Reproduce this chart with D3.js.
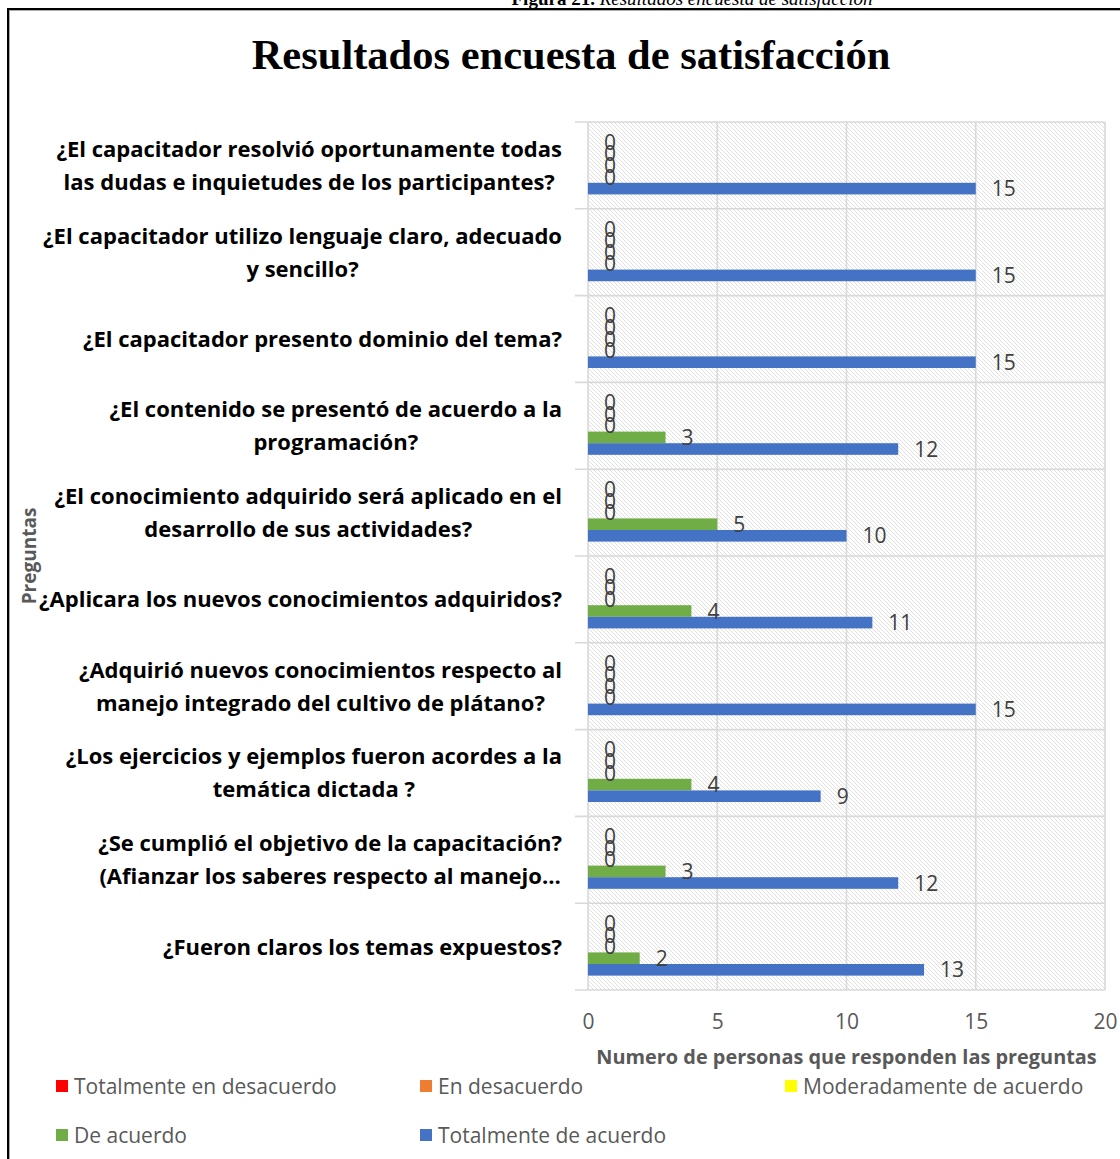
<!DOCTYPE html>
<html>
<head>
<meta charset="utf-8">
<script src="https://cdn.jsdelivr.net/npm/d3@7"></script>
<style>
  html, body { margin: 0; padding: 0; background: #fff; }
  svg { display: block; }
</style>
</head>
<body>
<script>
// Survey questions, top to bottom, already split into display lines
const preguntas = [
  ["¿El capacitador resolvió oportunamente todas", "las dudas e inquietudes de los participantes?"],
  ["¿El capacitador utilizo lenguaje claro, adecuado", "y sencillo?"],
  ["¿El capacitador presento dominio del tema?"],
  ["¿El contenido se presentó de acuerdo a la", "programación?"],
  ["¿El conocimiento adquirido será aplicado en el", "desarrollo de sus actividades?"],
  ["¿Aplicara los nuevos conocimientos adquiridos?"],
  ["¿Adquirió nuevos conocimientos respecto al", "manejo integrado del cultivo de plátano?"],
  ["¿Los ejercicios y ejemplos fueron acordes a la", "temática dictada ?"],
  ["¿Se cumplió el objetivo de la capacitación?", "(Afianzar los saberes respecto al manejo…"],
  ["¿Fueron claros los temas expuestos?"]
];

// Number of respondents per answer option (same order as preguntas)
const totalmenteDesacuerdo = [0, 0, 0, 0, 0, 0, 0, 0, 0, 0];
const enDesacuerdo         = [0, 0, 0, 0, 0, 0, 0, 0, 0, 0];
const moderadamente        = [0, 0, 0, 0, 0, 0, 0, 0, 0, 0];
const deAcuerdo            = [0, 0, 0, 3, 5, 4, 0, 4, 3, 2];
const totalmenteAcuerdo    = [15, 15, 15, 12, 10, 11, 15, 9, 12, 13];

const seriesNames  = ["Totalmente en desacuerdo", "En desacuerdo", "Moderadamente de acuerdo", "De acuerdo", "Totalmente de acuerdo"];
const seriesColors = ["#FF0000", "#ED7D31", "#FFFF00", "#70AD47", "#4472C4"];
const seriesValues = [totalmenteDesacuerdo, enDesacuerdo, moderadamente, deAcuerdo, totalmenteAcuerdo];

const xTicks = [0, 5, 10, 15, 20];

const W = 1120, H = 1159;
const plot = { left: 588, right: 1105, top: 122, bottom: 990 };

const svg = d3.select("body").append("svg")
  .attr("width", W).attr("height", H);

// diagonal hatch used as plot-area fill
const defs = svg.append("defs");
const pat = defs.append("pattern")
  .attr("id", "hatch")
  .attr("patternUnits", "userSpaceOnUse")
  .attr("width", 4).attr("height", 4);
pat.append("rect").attr("width", 4).attr("height", 4).attr("fill", "#fff");
pat.append("path")
  .attr("d", "M-1,-1 L5,5 M-1,3 L1,5 M3,-1 L5,1")
  .attr("stroke", "#dcdcdc").attr("stroke-width", 0.9);

// figure caption (mostly above the frame)
const cap = svg.append("text")
  .attr("x", 692).attr("y", 5)
  .attr("text-anchor", "middle")
  .attr("font-family", "Liberation Serif, Times New Roman, serif")
  .attr("font-size", 19);
cap.append("tspan").attr("font-weight", "bold").text("Figura 21. ");
cap.append("tspan").attr("font-style", "italic").text("Resultados encuesta de satisfacción");

// chart frame
svg.append("rect")
  .attr("x", 8).attr("y", 9).attr("width", 1200).attr("height", 1300)
  .attr("fill", "#fff").attr("stroke", "#000").attr("stroke-width", 2);
svg.append("rect")
  .attr("x", 9.5).attr("y", 10.5).attr("width", 1200).attr("height", 1300)
  .attr("fill", "none").attr("stroke", "#aaa").attr("stroke-width", 1);

// title
svg.append("text")
  .attr("x", 571).attr("y", 69)
  .attr("text-anchor", "middle")
  .attr("font-family", "Liberation Serif, Times New Roman, serif")
  .attr("font-weight", "bold")
  .attr("font-size", 42.5)
  .attr("fill", "#000")
  .text("Resultados encuesta de satisfacción");

// scales
const x = d3.scaleLinear().domain([0, 20]).range([plot.left, plot.right]);
const y = d3.scaleBand().domain(d3.range(preguntas.length)).range([plot.top, plot.bottom]).padding(0);
const ySub = d3.scaleBand().domain(d3.range(seriesNames.length))
  .range([0, y.bandwidth()]).paddingInner(0).paddingOuter(1.24);

// plot area background
svg.append("rect")
  .attr("x", plot.left).attr("y", plot.top)
  .attr("width", plot.right - plot.left).attr("height", plot.bottom - plot.top)
  .attr("fill", "url(#hatch)");

const grid = svg.append("g").attr("stroke", "#D9D9D9").attr("stroke-width", 1.6);
// vertical value gridlines
grid.selectAll("line.v").data(xTicks).join("line")
  .attr("x1", d => x(d)).attr("x2", d => x(d))
  .attr("y1", plot.top).attr("y2", plot.bottom);
// category separators with outside tick marks
const bounds = d3.range(preguntas.length + 1).map(i => i < preguntas.length ? y(i) : y(i - 1) + y.bandwidth());
grid.selectAll("line.h").data(bounds).join("line")
  .attr("x1", plot.left - 13).attr("x2", plot.right)
  .attr("y1", d => d).attr("y2", d => d);

// bars
const rows = preguntas.map((p, i) => ({ i, vals: seriesValues.map(s => s[i]) }));
const rowG = svg.selectAll("g.row").data(rows).join("g")
  .attr("class", "row")
  .attr("transform", d => `translate(0,${y(d.i)})`);

rowG.selectAll("rect").data(d => d.vals.map((v, k) => ({ v, k }))).join("rect")
  .attr("x", x(0))
  .attr("y", d => ySub(d.k))
  .attr("width", d => x(d.v) - x(0))
  .attr("height", ySub.bandwidth())
  .attr("fill", d => seriesColors[d.k]);

// value labels
rowG.selectAll("text").data(d => d.vals.map((v, k) => ({ v, k }))).join("text")
  .attr("x", d => x(d.v) + 16)
  .attr("y", d => ySub(d.k) + ySub.bandwidth() / 2)
  .attr("dy", "0.36em")
  .attr("font-family", "Open Sans, sans-serif")
  .attr("font-size", 21)
  .attr("fill", "#404040")
  .text(d => d.v);

// category labels: lines centred, block right-aligned to the axis
const labelRight = 562;
const lineH = 33;
const labG = svg.append("g")
  .attr("font-family", "Open Sans, sans-serif")
  .attr("font-weight", "bold")
  .attr("font-size", 22)
  .attr("fill", "#000");
preguntas.forEach((lines, i) => {
  const cy = y(i) + y.bandwidth() / 2;
  const t = labG.append("text").attr("text-anchor", "middle");
  const spans = lines.map((ln, j) => t.append("tspan")
    .attr("y", cy + (j - (lines.length - 1) / 2) * lineH)
    .attr("dy", "0.36em")
    .text(ln));
  const maxW = d3.max(spans, s => s.node().getComputedTextLength());
  spans.forEach(s => s.attr("x", labelRight - maxW / 2));
});

// x axis tick labels
const xAxis = svg.append("g")
  .attr("transform", `translate(0,${plot.bottom})`)
  .call(d3.axisBottom(x).tickValues(xTicks).tickSize(0).tickPadding(24));
xAxis.select(".domain").remove();
xAxis.selectAll("text")
  .attr("font-family", "Open Sans, sans-serif")
  .attr("font-size", 21)
  .attr("fill", "#595959");

// axis titles
svg.append("text")
  .attr("x", (plot.left + plot.right) / 2).attr("y", 1064)
  .attr("text-anchor", "middle")
  .attr("font-family", "Open Sans, sans-serif")
  .attr("font-weight", "bold")
  .attr("font-size", 19.9)
  .attr("fill", "#595959")
  .text("Numero de personas que responden las preguntas");

svg.append("text")
  .attr("transform", `translate(29,${(plot.top + plot.bottom) / 2}) rotate(-90)`)
  .attr("text-anchor", "middle")
  .attr("dy", "0.36em")
  .attr("font-family", "Open Sans, sans-serif")
  .attr("font-weight", "bold")
  .attr("font-size", 19)
  .attr("fill", "#595959")
  .text("Preguntas");

// legend
const legendPos = [[56, 1086], [420, 1086], [785, 1086], [56, 1135], [420, 1135]];
const leg = svg.selectAll("g.leg").data(seriesNames).join("g")
  .attr("class", "leg")
  .attr("transform", (d, k) => `translate(${legendPos[k][0]},${legendPos[k][1]})`);
leg.append("rect")
  .attr("x", 0).attr("y", -6).attr("width", 12).attr("height", 12)
  .attr("fill", (d, k) => seriesColors[k]);
leg.append("text")
  .attr("x", 18).attr("y", 0).attr("dy", "0.36em")
  .attr("font-family", "Open Sans, sans-serif")
  .attr("font-size", 21)
  .attr("fill", "#595959")
  .text(d => d);
</script>
</body>
</html>
